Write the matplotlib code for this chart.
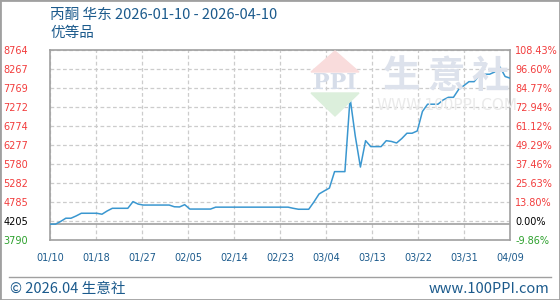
import numpy as np
import matplotlib
matplotlib.use("Agg")
import matplotlib.pyplot as plt
from matplotlib.patches import Polygon, Rectangle
from matplotlib.lines import Line2D

# 丙酮 华东 daily price, 2026-01-10 .. 2026-04-09
values = [4205, 4205, 4275, 4360, 4360, 4420, 4490, 4490, 4490, 4490,
          4465, 4550, 4620, 4620, 4620, 4620, 4795, 4730, 4705, 4705,
          4705, 4705, 4705, 4705, 4660, 4655, 4715, 4600, 4600, 4600,
          4600, 4600,
          4650, 4650, 4650, 4650, 4650, 4650, 4650, 4650, 4650, 4650,
          4650, 4650, 4650, 4650, 4650,
          4620, 4595, 4595, 4595, 4785, 4995, 5075, 5150, 5580, 5580,
          5580, 7510, 6515, 5700, 6390, 6235, 6235, 6235, 6390, 6370,
          6330, 6445, 6585, 6585, 6645, 7155, 7345, 7345, 7345, 7455,
          7525, 7525, 7730, 7830, 7935, 7935, 8100, 8130, 8130, 8190,
          8320, 8070, 8025]
days = np.arange(len(values))

base = 4205
ymin, ymax = 3790, 8764
left_labels = ["3790", "4205", "4785", "5282", "5780", "6277",
               "6774", "7272", "7769", "8267", "8764"]
right_labels = ["-9.86%", "0.00%", "13.80%", "25.63%", "37.46%", "49.29%",
                "61.12%", "72.94%", "84.77%", "96.60%", "108.43%"]
x_labels = ["01/10", "01/18", "01/27", "02/05", "02/14", "02/23",
            "03/04", "03/13", "03/22", "03/31", "04/09"]

red = "#f23c3c"
green = "#2ca02c"
blue_txt = "#1b5a8c"
cjk = ["Noto Sans CJK SC", "DejaVu Sans"]

fig = plt.figure(figsize=(5.6, 3.0), dpi=100)
ax = fig.add_axes([50.3 / 560, 60 / 300, 460 / 560, 190 / 300])

# watermark
fig.patches.append(Polygon([[311 / 560, 1 - 72 / 300], [359 / 560, 1 - 72 / 300],
                            [335 / 560, 1 - 51 / 300]], closed=True,
                           transform=fig.transFigure, color="#f9dcdc", zorder=0))
fig.patches.append(Polygon([[311 / 560, 1 - 93 / 300], [359 / 560, 1 - 93 / 300],
                            [335 / 560, 1 - 116 / 300]], closed=True,
                           transform=fig.transFigure, color="#dcefdc", zorder=0))
fig.text(335 / 560, 1 - 83 / 300, "PPI", ha="center", va="center", fontsize=16,
         family="DejaVu Serif", fontweight="bold", color="#d6dde9", zorder=0)
for cx, ch in zip([402, 446, 490], "生意社"):
    fig.text(cx / 560, 1 - 76 / 300, ch, ha="center", va="center", fontsize=27,
             family=cjk, color="#dde2ec", zorder=0, fontweight="bold")
fig.text(447 / 560, 1 - 106 / 300, "WWW.100PPI.COM", ha="center", va="center",
         fontsize=11, color="#eaeaea", zorder=0)

ax.set_facecolor("none")
ax.plot(days, values, color="#3a97d0", lw=1.1, zorder=3)
ax.axhline(base, color="#a0a0a0", lw=1.2, zorder=2)

ax.set_xlim(0, len(values) - 1)
ax.set_ylim(ymin, ymax)
yt = np.linspace(ymin, ymax, 11)
xt = np.linspace(0, len(values) - 1, 11)
ax.set_yticks(yt)
ax.set_yticklabels(left_labels)
ax.set_xticks(xt)
ax.set_xticklabels(x_labels)
ax.grid(True, color="#cccccc", ls=(0, (3, 2)), lw=0.9)
ax.tick_params(axis="both", length=0, labelsize=7)
ax.tick_params(axis="y", pad=16)
ax.tick_params(axis="x", pad=9, labelcolor=blue_txt)
for s in ax.spines.values():
    s.set_color("#a0a0a0")
    s.set_linewidth(1.2)

ax2 = ax.twinx()
ax2.set_ylim(ymin, ymax)
ax2.set_yticks(yt)
ax2.set_yticklabels(right_labels)
ax2.tick_params(axis="y", length=0, labelsize=7, pad=3.5)
for s in ax2.spines.values():
    s.set_visible(False)

for axis in (ax, ax2):
    labs = axis.get_yticklabels()
    for i, t in enumerate(labs):
        if i == 0:
            t.set_color(green)
        elif i == 1:
            t.set_color("black")
        else:
            t.set_color(red)

fig.text(50 / 560, 1 - 15 / 300, "丙酮 华东 2026-01-10 - 2026-04-10", ha="left",
         va="center", fontsize=10.5, family=cjk, color=blue_txt)
fig.text(50 / 560, 1 - 33 / 300, "优等品", ha="left", va="center",
         fontsize=10.5, family=cjk, color=blue_txt)

fig.lines.append(Line2D([9 / 560, 551 / 560], [1 - 277 / 300] * 2,
                        transform=fig.transFigure, color="#a0a0a0", lw=1))
fig.text(10 / 560, 1 - 289 / 300, "© 2026.04 生意社", ha="left", va="center",
         fontsize=10.5, family=cjk, color=blue_txt)
fig.text(549 / 560, 1 - 289 / 300, "www.100PPI.com", ha="right", va="center",
         fontsize=10.5, family=cjk, color=blue_txt)
fig.patches.append(Rectangle((0, 0), 1, 1, transform=fig.transFigure, fill=False,
                             edgecolor="#a0a0a0", lw=2))

fig.savefig("out.png", dpi=100)
